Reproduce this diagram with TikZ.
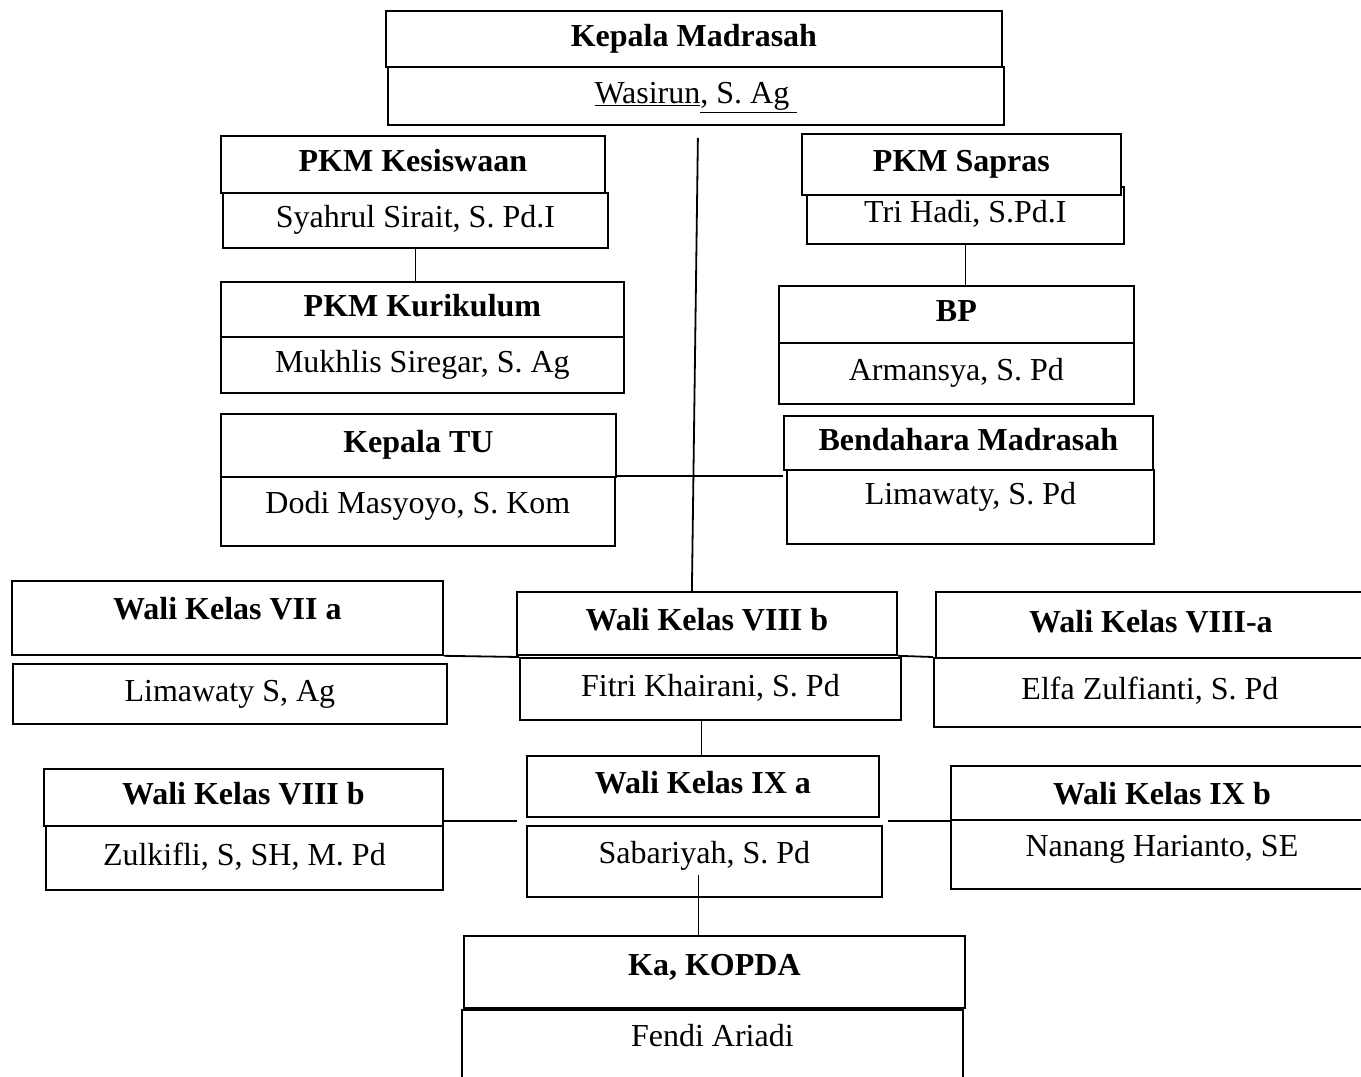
\documentclass[tikz,border=0pt]{standalone}
\usepackage{fontspec}
\setmainfont{Liberation Serif}

\begin{document}
\begin{tikzpicture}[x=1pt,y=-1pt,
    box/.style={draw,fill=white,line width=1.8pt,inner sep=0pt,anchor=north west,
        font=\fontsize{32}{37}\selectfont,text height=22pt,text depth=7pt},
    head/.style={box,font=\fontsize{32}{37}\selectfont\bfseries},
    sz/.style 2 args={minimum width=#1pt,minimum height=#2pt},
    link/.style={line width=1.8pt}]
    \useasboundingbox (0,0) rectangle (1361,1077);

    % name boxes first, the title boxes lie over them
    \node[box,sz={616}{58}] (kmn) at (387,66) {\underline{Wasirun}\underline{, S. Ag\ }};
    \node[box,sz={385}{55}] (ksn) at (222,192) {Syahrul Sirait, S. Pd.I};
    \node[box,sz={403}{56}] (kun) at (220,336) {Mukhlis Siregar, S. Ag};
    \node[box,sz={317}{57}] (spn) at (806,186) {Tri Hadi, S.Pd.I};
    \node[box,sz={355}{61}] (bpn) at (778,342) {Armansya, S. Pd};
    \node[box,sz={394}{69},text depth=17pt] (tun) at (220,476) {Dodi Masyoyo, S. Kom};
    \node[box,sz={367}{74},text depth=27pt] (bdn) at (786,469) {Limawaty, S. Pd};
    \node[box,sz={434}{60}] (w7n) at (12,663) {Limawaty S, Ag};
    \node[box,sz={381}{62}] (w8bn) at (519,657) {Fitri Khairani, S. Pd};
    \node[box,sz={432}{69}] (w8an) at (933,657) {Elfa Zulfianti, S. Pd};
    \node[box,sz={397}{64}] (vbn) at (45,825) {Zulkifli, S, SH, M. Pd};
    \node[box,sz={355}{71},text depth=17pt] (w9an) at (526,825) {Sabariyah, S. Pd};
    \node[box,sz={422}{69},text depth=17pt] (w9bn) at (950,819) {Nanang Harianto, SE};
    \node[box,sz={501}{95},text depth=43pt] (kopn) at (461,1009) {Fendi Ariadi};

    % title boxes
    \node[head,sz={616}{56}] (kmt) at (385,10) {Kepala Madrasah};
    \node[head,sz={384}{57}] (kst) at (220,135) {PKM Kesiswaan};
    \node[head,sz={403}{55}] (kut) at (220,281) {PKM Kurikulum};
    \node[head,sz={319}{61}] (spt) at (801,133) {PKM Sapras};
    \node[head,sz={355}{57}] (bpt) at (778,285) {BP};
    \node[head,sz={395}{63}] (tut) at (220,413) {Kepala TU};
    \node[head,sz={369}{54}] (bdt) at (783,415) {Bendahara Madrasah};
    \node[head,sz={431}{74},text depth=19pt] (w7t) at (11,580) {Wali Kelas VII a};
    \node[head,sz={380}{63}] (w8bt) at (516,591) {Wali Kelas VIII b};
    \node[head,sz={430}{66}] (w8at) at (935,591) {Wali Kelas VIII-a};
    \node[head,sz={399}{57}] (vbt) at (43,768) {Wali Kelas VIII b};
    \node[head,sz={352}{61}] (w9at) at (526,755) {Wali Kelas IX a};
    \node[head,sz={422}{54},text height=30pt] (w9bt) at (950,765) {Wali Kelas IX b};
    \node[head,sz={501}{72},text depth=15pt] (kopt) at (463,935) {Ka, KOPDA};

    % connectors
    \draw[link] ([xshift=2pt,yshift=-12pt]kmn.south) -- ([xshift=-15pt]w8bt.north);
    \draw[link] (ksn.south) -- (ksn.south |- kut.north);
    \draw[link] (spn.south) -- (spn.south |- bpt.north);
    \coordinate (tb) at ([yshift=2pt]tut.south east);
    \draw[link] (tb) -- (tb -| bdt.west);
    \draw[link] (w7t.south east) -- (w8bn.north west);
    \draw[link] (w8bt.south east) -- (w8an.north west);
    \coordinate (fa) at ([xshift=-9pt]w8bn.south);
    \draw[link] (fa) -- (fa |- w9at.north);
    \coordinate (vb) at ([yshift=6pt]vbt.south east);
    \path (vb -| w9at.west) coordinate (vbe);
    \draw[link] (vb) -- ([xshift=-9pt]vbe);
    \path (w9bt.south west -| w9an.east) coordinate (ibe);
    \draw[link] (w9bt.south west) -- ([xshift=5pt]ibe);
    \coordinate (sk) at ([xshift=-6pt,yshift=23pt]w9an.south);
    \draw[link] (sk) -- (sk |- kopt.north);
\end{tikzpicture}
\end{document}
